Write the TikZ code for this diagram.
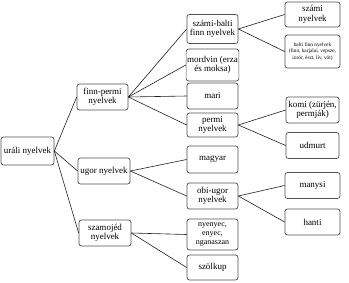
\documentclass[tikz,border=0pt]{standalone}
\usepackage{fontspec}
\setmainfont{Liberation Serif}
\usetikzlibrary{positioning}
\definecolor{boxline}{HTML}{505050}
\definecolor{linkline}{HTML}{202020}

\begin{document}
\begin{tikzpicture}[
  x=1pt, y=-1pt,
  box/.style={rectangle, rounded corners=2.5pt, draw=boxline, line width=0.7pt, fill=white, minimum width=51pt, minimum height=26pt, align=center, inner sep=1pt, font=\fontsize{9}{9.5}\selectfont},
  leaf/.style={box, minimum width=55pt},
  link/.style={draw=linkline, line width=0.6pt}
]
\useasboundingbox (0,0) rectangle (349,282);

% root and first level
\node[box, minimum width=53pt, minimum height=28pt] (urali) at (27.5,151) {uráli nyelvek};
\node[box] (finnpermi) at (102.5,97) {finn-permi\\nyelvek};
\node[box, minimum width=52pt] (ugor) at (104,171) {ugor nyelvek};
\node[box, minimum width=52pt] (szamojed) at (105,233) {szamojéd\\nyelvek};

% second level
\node[box, minimum height=29pt] (szamibalti) at (212.5,29) {számi-balti\\finn nyelvek};
\node[box, minimum height=32pt] (mordvin) at (212.5,65) {mordvin (erza\\és moksa)};
\node[box] (mari) at (212.5,96) {mari};
\node[box, minimum height=24pt] (permi) at (212.5,125) {permi\\nyelvek};
\node[box, minimum height=27pt] (magyar) at (212.5,159.5) {magyar};
\node[box] (obiugor) at (212.5,196) {obi-ugor\\nyelvek};
\node[box, minimum height=31pt, font=\fontsize{8}{9}\selectfont] (nyenyec) at (212.5,234.5) {nyenyec,\\enyec,\\nganaszan};
\node[box, minimum height=25pt] (szolkup) at (212.5,267.5) {szölkup};

% third level
\node[leaf, minimum height=25pt] (szami) at (312.5,14.5) {számi\\nyelvek};
\node[leaf, minimum height=33pt, font=\fontsize{5.3}{6.5}\selectfont] (baltifinn) at (312.5,51.5) {balti finn nyelvek\\(finn, karjalai, vepsze,\\izsór, észt, lív, vót)};
\node[leaf, minimum width=53pt] (komi) at (312.5,110) {komi (zürjén,\\permják)};
\node[leaf, minimum width=53pt] (udmurt) at (312.5,145.5) {udmurt};
\node[leaf] (manysi) at (312.5,185.5) {manysi};
\node[leaf] (hanti) at (312.5,222) {hanti};

% connectors
\foreach \child in {finnpermi, ugor, szamojed}
  \draw[link] (urali.east) -- (\child.west);
\foreach \child in {szamibalti, mordvin, mari, permi}
  \draw[link] (finnpermi.east) -- (\child.west);
\foreach \child in {magyar, obiugor}
  \draw[link] (ugor.east) -- (\child.west);
\foreach \child in {nyenyec, szolkup}
  \draw[link] (szamojed.east) -- (\child.west);
\foreach \child in {szami, baltifinn}
  \draw[link] (szamibalti.east) -- (\child.west);
\foreach \child in {komi, udmurt}
  \draw[link] (permi.east) -- (\child.west);
\foreach \child in {manysi, hanti}
  \draw[link] (obiugor.east) -- (\child.west);
\end{tikzpicture}
\end{document}
